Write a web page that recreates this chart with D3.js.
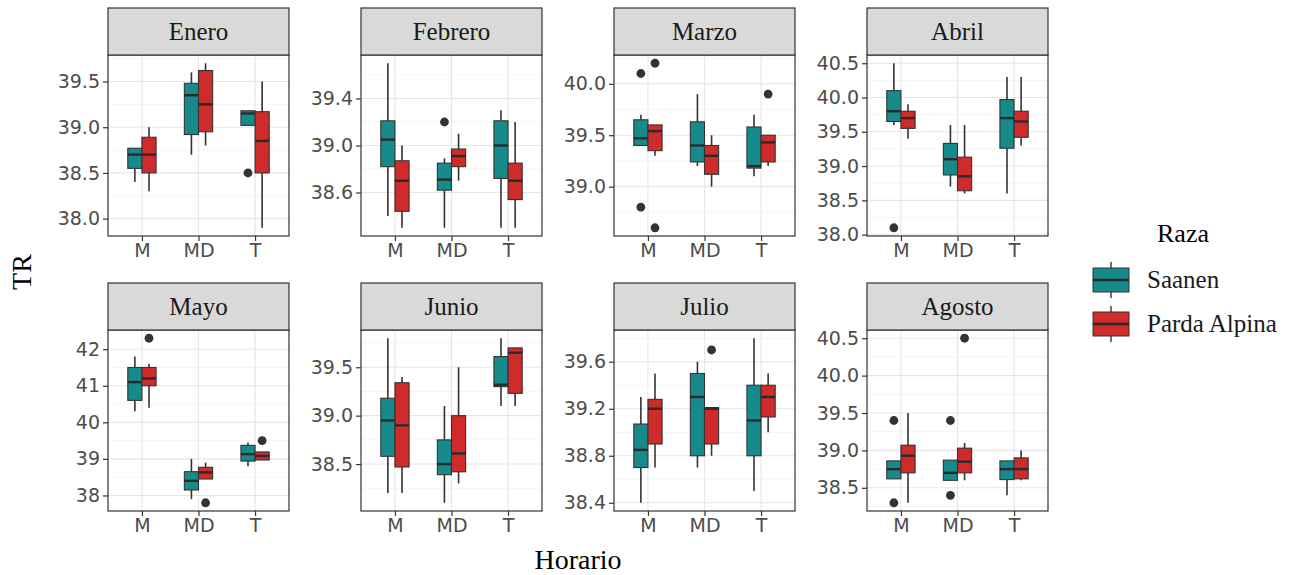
<!DOCTYPE html>
<html><head><meta charset="utf-8">
<script src="https://cdn.jsdelivr.net/npm/d3@7"></script>
<style>body{margin:0;background:#fff}</style>
</head><body>
<svg id="chart" width="1296" height="575"></svg>
<script>
const months = ["Enero","Febrero","Marzo","Abril","Mayo","Junio","Julio","Agosto"];
const horarios = ["M","MD","T"];
const razas = ["Saanen","Parda Alpina"];
const colors = ["#178b8b","#d02b2b"];
// [lower whisker, Q1, median, Q3, upper whisker] for M, MD, T
const saanen = [
  [[38.4,38.55,38.7,38.77,38.77],[38.7,38.92,39.35,39.48,39.6],[39.02,39.02,39.15,39.18,39.18]],
  [[38.4,38.82,39.05,39.21,39.7],[38.3,38.62,38.71,38.85,38.89],[38.3,38.72,39.0,39.21,39.3]],
  [[39.4,39.4,39.47,39.65,39.7],[39.2,39.24,39.4,39.63,39.9],[39.1,39.18,39.2,39.58,39.7]],
  [[39.6,39.65,39.8,40.1,40.5],[38.7,38.87,39.1,39.33,39.6],[38.6,39.26,39.7,39.97,40.3]],
  [[40.3,40.6,41.1,41.5,41.8],[37.9,38.15,38.4,38.65,39.0],[38.8,38.94,39.13,39.37,39.45]],
  [[38.2,38.58,38.95,39.18,39.8],[38.1,38.39,38.5,38.75,39.1],[39.1,39.3,39.32,39.61,39.8]],
  [[38.4,38.7,38.85,39.07,39.3],[38.7,38.8,39.3,39.5,39.6],[38.5,38.8,39.1,39.4,39.8]],
  [[38.62,38.62,38.75,38.86,38.86],[38.6,38.6,38.7,38.87,38.87],[38.4,38.61,38.75,38.86,38.86]]
];
const parda = [
  [[38.3,38.5,38.7,38.89,39.0],[38.8,38.95,39.25,39.62,39.7],[37.9,38.5,38.85,39.17,39.5]],
  [[38.3,38.44,38.7,38.87,39.0],[38.7,38.82,38.91,38.97,39.1],[38.3,38.54,38.7,38.85,39.2]],
  [[39.3,39.35,39.54,39.6,39.6],[39.0,39.12,39.3,39.4,39.5],[39.2,39.24,39.43,39.5,39.5]],
  [[39.4,39.55,39.7,39.8,39.9],[38.6,38.64,38.85,39.13,39.6],[39.3,39.42,39.65,39.8,40.3]],
  [[40.4,41.0,41.2,41.5,41.6],[38.45,38.45,38.63,38.77,38.9],[38.97,38.97,39.08,39.19,39.19]],
  [[38.2,38.47,38.9,39.34,39.4],[38.3,38.42,38.61,39.0,39.5],[39.1,39.23,39.65,39.7,39.7]],
  [[38.7,38.9,39.2,39.28,39.5],[38.8,38.9,39.2,39.21,39.21],[39.0,39.13,39.3,39.4,39.5]],
  [[38.3,38.7,38.93,39.07,39.5],[38.6,38.7,38.85,39.03,39.1],[38.6,38.62,38.75,38.9,39.0]]
];
// outliers: [month index, horario, raza index, value]
const outliers = [
  [0,"T",0,38.5],
  [1,"MD",0,39.2],
  [2,"M",0,40.1],[2,"M",0,38.8],[2,"M",1,40.2],[2,"M",1,38.6],[2,"T",1,39.9],
  [3,"M",0,38.1],
  [4,"M",1,42.3],[4,"MD",1,37.8],[4,"T",1,39.5],
  [6,"MD",1,39.7],
  [7,"M",0,39.4],[7,"M",0,38.3],[7,"MD",0,39.4],[7,"MD",0,38.4],[7,"MD",1,40.5]
];
const yTicks = [
  [38.0,38.5,39.0,39.5],
  [38.6,39.0,39.4],
  [39.0,39.5,40.0],
  [38.0,38.5,39.0,39.5,40.0,40.5],
  [38,39,40,41,42],
  [38.5,39.0,39.5],
  [38.4,38.8,39.2,39.6],
  [38.5,39.0,39.5,40.0,40.5]
];
const tickFormats = [".1f",".1f",".1f",".1f","d",".1f",".1f",".1f"];

const svg = d3.select("#chart");
const panelW = 181, panelH = 181, stripH = 47;
const colX = [108, 361, 614, 867];
const rowY = [8, 283];
const series = [saanen, parda];

months.forEach((m, mi) => {
  const col = mi % 4, row = Math.floor(mi / 4);
  const x0 = colX[col], sy = rowY[row], y0 = sy + stripH;
  const g = svg.append("g").attr("transform", `translate(${x0},${y0})`);

  let vals = [];
  series.forEach(s => s[mi].forEach(st => vals.push(st[0], st[4])));
  outliers.filter(o => o[0] === mi).forEach(o => vals.push(o[3]));
  const [mn, mx] = d3.extent(vals);
  const pad = (mx - mn) * 0.05;
  const y = d3.scaleLinear().domain([mn - pad, mx + pad]).range([panelH, 0]);
  const x = d3.scalePoint().domain(horarios).range([0, panelW]).padding(0.6);
  const step = x.step();
  const dodgeW = step * 0.5, bw = dodgeW / 2;

  g.append("rect").attr("width", panelW).attr("height", panelH).attr("fill", "#fff");
  const tk = yTicks[mi];
  const half = (tk[1] - tk[0]) / 2;
  const minor = [];
  for (let v = tk[0] - half; v <= tk[tk.length-1] + half + 1e-9; v += 2*half) {
    const yy = y(v);
    if (yy >= 0 && yy <= panelH) minor.push(v);
  }
  g.selectAll(".minor").data(minor).enter().append("line")
    .attr("x1", 0).attr("x2", panelW).attr("y1", d => y(d)).attr("y2", d => y(d))
    .attr("stroke", "#f2f2f2").attr("stroke-width", 0.8);
  g.selectAll(".major").data(tk).enter().append("line")
    .attr("x1", 0).attr("x2", panelW).attr("y1", d => y(d)).attr("y2", d => y(d))
    .attr("stroke", "#e6e6e6").attr("stroke-width", 1.1);
  g.selectAll(".vmajor").data(horarios).enter().append("line")
    .attr("y1", 0).attr("y2", panelH).attr("x1", d => x(d)).attr("x2", d => x(d))
    .attr("stroke", "#e6e6e6").attr("stroke-width", 1.1);

  series.forEach((s, ri) => {
    s[mi].forEach((st, hi) => {
      const cx = x(horarios[hi]) - dodgeW/2 + bw*ri + bw/2;
      const bg = g.append("g");
      bg.append("line").attr("x1", cx).attr("x2", cx).attr("y1", y(st[4])).attr("y2", y(st[3]))
        .attr("stroke", "#333").attr("stroke-width", 1.6);
      bg.append("line").attr("x1", cx).attr("x2", cx).attr("y1", y(st[1])).attr("y2", y(st[0]))
        .attr("stroke", "#333").attr("stroke-width", 1.6);
      bg.append("rect").attr("x", cx - bw/2).attr("width", bw)
        .attr("y", y(st[3])).attr("height", Math.max(0.5, y(st[1]) - y(st[3])))
        .attr("fill", colors[ri]).attr("stroke", "#333").attr("stroke-width", 1.1);
      bg.append("line").attr("x1", cx - bw/2).attr("x2", cx + bw/2).attr("y1", y(st[2])).attr("y2", y(st[2]))
        .attr("stroke", "#2a2a2a").attr("stroke-width", 2.4);
    });
  });
  outliers.filter(o => o[0] === mi).forEach(o => {
    const cx = x(o[1]) - dodgeW/2 + bw*o[2] + bw/2;
    g.append("circle").attr("cx", cx).attr("cy", y(o[3])).attr("r", 4.4).attr("fill", "#333");
  });

  g.append("rect").attr("width", panelW).attr("height", panelH).attr("fill", "none")
    .attr("stroke", "#333").attr("stroke-width", 1.2);

  svg.append("rect").attr("x", x0).attr("y", sy).attr("width", panelW).attr("height", stripH)
    .attr("fill", "#d9d9d9").attr("stroke", "#333").attr("stroke-width", 1.2);
  svg.append("text").attr("x", x0 + panelW/2).attr("y", sy + stripH/2 + 8)
    .attr("text-anchor", "middle").attr("font-family", "Liberation Serif")
    .attr("font-size", 25).attr("fill", "#1a1a1a").text(m);

  const fmt = d3.format(tickFormats[mi]);
  const ya = g.append("g").call(d3.axisLeft(y).tickValues(tk).tickFormat(fmt).tickSize(5).tickPadding(3));
  ya.select(".domain").remove();
  ya.selectAll("line").attr("stroke", "#333").attr("stroke-width", 1.2);
  ya.selectAll("text").attr("font-family", "DejaVu Sans").attr("font-size", 19).attr("fill", "#4d4d4d");
  const xa = g.append("g").attr("transform", `translate(0,${panelH})`)
    .call(d3.axisBottom(x).tickSize(5).tickPadding(3));
  xa.select(".domain").remove();
  xa.selectAll("line").attr("stroke", "#333").attr("stroke-width", 1.2);
  xa.selectAll("text").attr("font-family", "DejaVu Sans").attr("font-size", 19).attr("fill", "#4d4d4d");
});

svg.append("text").attr("x", 578).attr("y", 569).attr("text-anchor", "middle")
  .attr("font-family", "Liberation Serif").attr("font-size", 28).attr("fill", "#000").text("Horario");
svg.append("text").attr("transform", "translate(31,272) rotate(-90)").attr("text-anchor", "middle")
  .attr("font-family", "Liberation Serif").attr("font-size", 28).attr("fill", "#000").text("TR");

const lg = svg.append("g");
lg.append("text").attr("x", 1157).attr("y", 242).attr("font-family", "Liberation Serif")
  .attr("font-size", 26).attr("fill", "#000").text("Raza");
razas.forEach((r, i) => {
  const ky = 262 + i * 44;
  const kx = 1093, kw = 36;
  lg.append("line").attr("x1", kx + kw/2).attr("x2", kx + kw/2).attr("y1", ky).attr("y2", ky + 36)
    .attr("stroke", "#333").attr("stroke-width", 1.4);
  lg.append("rect").attr("x", kx).attr("y", ky + 6).attr("width", kw).attr("height", 24)
    .attr("fill", colors[i]).attr("stroke", "#333").attr("stroke-width", 1);
  lg.append("line").attr("x1", kx).attr("x2", kx + kw).attr("y1", ky + 18).attr("y2", ky + 18)
    .attr("stroke", "#2a2a2a").attr("stroke-width", 2.4);
  lg.append("text").attr("x", 1147).attr("y", ky + 26).attr("font-family", "Liberation Serif")
    .attr("font-size", 25).attr("fill", "#1a1a1a").text(r);
});
</script>
</body></html>
